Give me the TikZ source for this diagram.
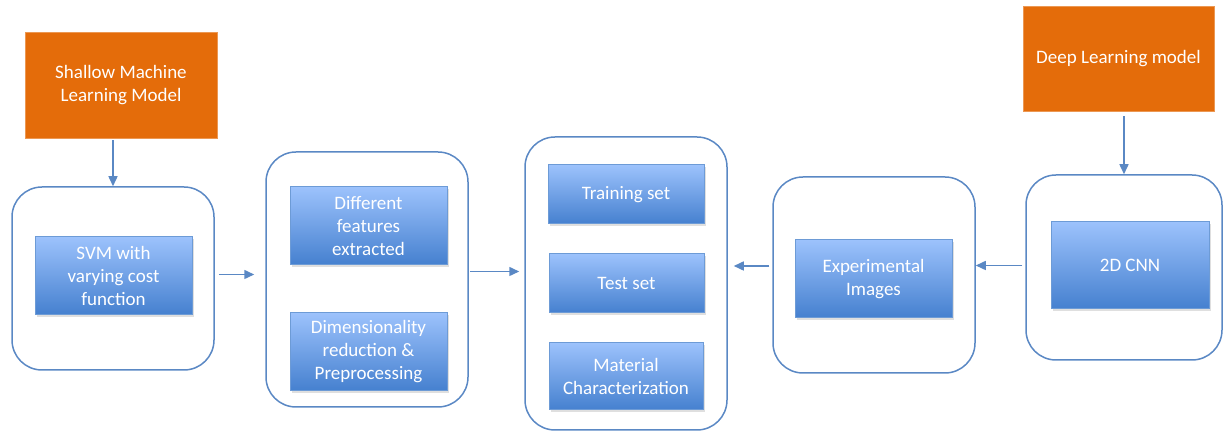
\documentclass[tikz,border=0pt]{standalone}
\usepackage{fontspec}
\setmainfont{Carlito}
\usetikzlibrary{arrows.meta,shadows}
\definecolor{modelorange}{HTML}{E46C0A}
\definecolor{frameblue}{HTML}{5A88C4}
\definecolor{stepdark}{HTML}{4580CF}
\definecolor{steplight}{HTML}{9CC2FC}
\definecolor{stepedge}{HTML}{6D9BD6}
\tikzset{
  model/.style={fill=modelorange, draw=modelorange!70!white, text=white, align=center,
    inner sep=0pt, font=\fontsize{9.5}{11.5}\selectfont},
  group/.style={draw=frameblue, line width=0.75pt, rounded corners=15pt, inner sep=0pt},
  stepbox/.style={top color=steplight, bottom color=stepdark, draw=stepedge, line width=0.5pt,
    text=white, align=center, inner sep=0pt, font=\fontsize{9.5}{11.5}\selectfont,
    drop shadow={shadow xshift=1pt, shadow yshift=-1pt, opacity=0.25}},
  arr/.style={draw=frameblue, line width=0.75pt, -{Triangle[length=5pt,width=4.5pt]}}
}
\begin{document}
\begin{tikzpicture}[x=0.5pt, y=-0.5pt]
    \useasboundingbox (0, 0) rectangle (1223, 432);
    \node[model, minimum width=96pt, minimum height=53pt] (shallow) at (121, 85) {Shallow Machine\\Learning Model};
    \node[model, minimum width=95.5pt, minimum height=52.5pt] (deep) at (1118.5, 58.5) {Deep Learning model};
    \node[group, minimum width=101pt, minimum height=91.5pt] (svmgrp) at (113, 278.5) {};
    \node[group, minimum width=101pt, minimum height=127.5pt] (featgrp) at (367, 279.5) {};
    \node[group, minimum width=101pt, minimum height=146.5pt] (setgrp) at (626, 283.5) {};
    \node[group, minimum width=101pt, minimum height=98pt] (imggrp) at (874, 275) {};
    \node[group, minimum width=98pt, minimum height=92.5pt] (cnngrp) at (1124, 267.5) {};
    \node[stepbox, minimum width=78.5pt, minimum height=39pt] (svm) at (113.5, 276) {SVM with\\varying cost\\function};
    \node[stepbox, minimum width=78.5pt, minimum height=39pt] (feat) at (368.5, 226) {Different\\features\\extracted};
    \node[stepbox, minimum width=78.5pt, minimum height=39pt] (dimred) at (368.5, 352) {Dimensionality\\reduction \&\\Preprocessing};
    \node[stepbox, minimum width=78pt, minimum height=29.5pt] (train) at (626, 194.5) {Training set};
    \node[stepbox, minimum width=77.5pt, minimum height=29.5pt] (test) at (626.5, 283.5) {Test set};
    \node[stepbox, minimum width=77pt, minimum height=33.5pt] (matchar) at (626, 376.5) {Material\\Characterization};
    \node[stepbox, minimum width=78.5pt, minimum height=39pt] (expimg) at (873.5, 279) {Experimental\\Images};
    \node[stepbox, minimum width=79pt, minimum height=43.5pt] (cnn) at (1130, 265.5) {2D CNN};
    \draw[arr, shorten <=1pt] (shallow.south -| svmgrp.north) -- (svmgrp.north);
    \draw[arr, shorten <=2.5pt] (deep.south -| cnngrp.north) -- (cnngrp.north);
    \draw[arr, shorten <=2pt, shorten >=5.5pt] ([yshift=2pt]svmgrp.east) -- ([yshift=2pt]svmgrp.east -| featgrp.west);
    \draw[arr, shorten <=0.5pt, shorten >=2.5pt] ([yshift=4pt]featgrp.east) -- ([yshift=4pt]featgrp.east -| setgrp.west);
    \draw[arr, shorten <=1.5pt, shorten >=3pt] ([yshift=4.5pt]imggrp.west) -- ([yshift=4.5pt]imggrp.west -| setgrp.east);
    \draw[arr, shorten <=1.5pt] ([yshift=1pt]cnngrp.west) -- ([yshift=1pt]cnngrp.west -| imggrp.east);
\end{tikzpicture}
\end{document}
